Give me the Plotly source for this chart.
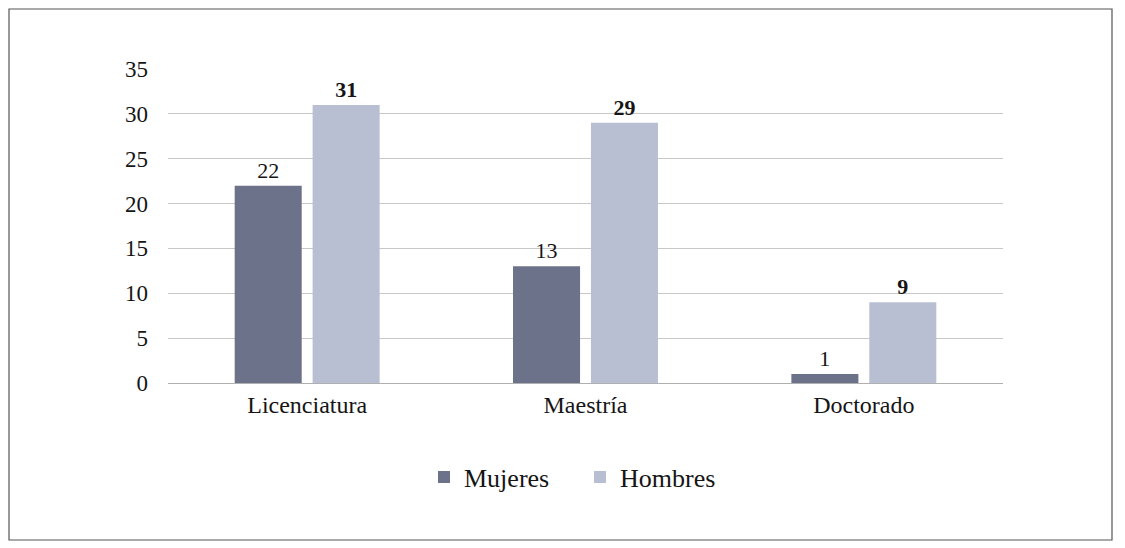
import plotly.graph_objects as go

categories = ["Licenciatura", "Maestría", "Doctorado"]
mujeres = [22, 13, 1]
hombres = [31, 29, 9]
y_ticks = [0, 5, 10, 15, 20, 25, 30, 35]

W, H = 1125, 548
OFF = 8  # page body offset
L, R, T, B = 168 - OFF, 122 + OFF, 69 - OFF, 165 + OFF
pw, ph = W - L - R, H - T - B

def px(x):
    return (x - OFF - L) / pw

def py(y):
    return (H - B - (y - OFF)) / ph

font = "Liberation Serif"
ink = "#151515"

fig = go.Figure()
fig.add_trace(go.Bar(
    name="Mujeres", x=categories, y=mujeres,
    marker=dict(color="#6c7289", line=dict(width=0)),
    text=mujeres, textposition="outside",
    textfont=dict(family=font, size=22, color=ink),
    cliponaxis=False,
))
fig.add_trace(go.Bar(
    name="Hombres", x=categories, y=hombres,
    marker=dict(color="#b9bfd3", line=dict(width=0)),
    text=[f"<b>{v}</b>" for v in hombres], textposition="outside",
    textfont=dict(family=font, size=22, color=ink),
    cliponaxis=False,
))

fig.update_layout(
    width=W, height=H,
    margin=dict(l=L, r=R, t=T, b=B, autoexpand=False),
    paper_bgcolor="white", plot_bgcolor="white",
    barmode="group", bargap=0.44, bargroupgap=0.14,
    font=dict(family=font, size=22, color=ink),
    showlegend=True,
    legend=dict(orientation="h", x=px(424), xanchor="left", y=py(477), yanchor="middle",
                font=dict(family=font, size=26, color=ink), itemwidth=30,
                entrywidth=111, entrywidthmode="pixels",
                traceorder="normal"),
    xaxis=dict(showgrid=False, showline=True, linecolor="#b0b0b0", linewidth=1,
               ticks="", tickfont=dict(family=font, size=24, color=ink)),
    yaxis=dict(range=[0, 35], tickvals=y_ticks, showgrid=True, gridcolor="#c8c8c8",
               gridwidth=1, zeroline=False, ticks="", ticklen=0, ticklabelstandoff=19,
               tickfont=dict(family=font, size=23, color=ink)),
    shapes=[dict(type="rect", xref="paper", yref="paper",
                 x0=px(OFF + 1), x1=px(1112), y0=py(540), y1=py(OFF + 1),
                 line=dict(color="#555", width=1.2), layer="below")],
)

fig.write_html("out.html")
